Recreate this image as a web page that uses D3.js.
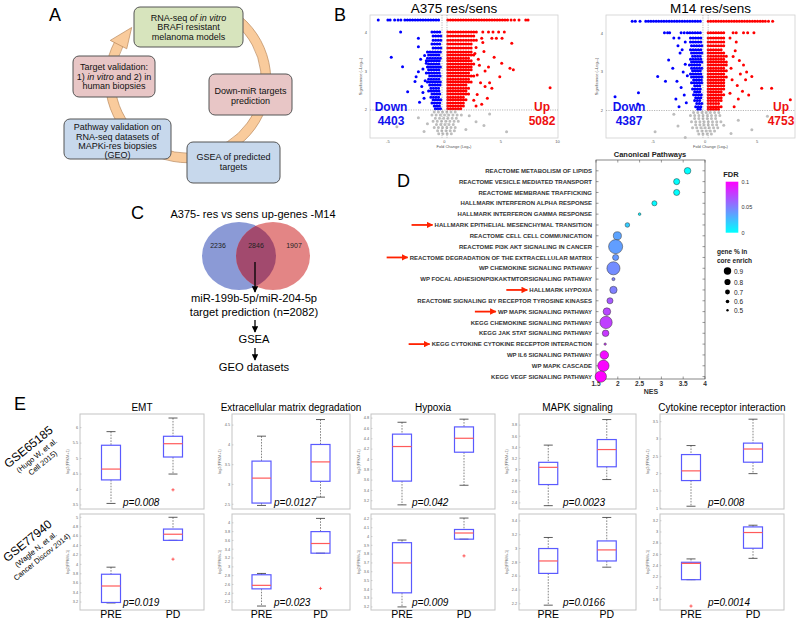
<!DOCTYPE html>
<html><head><meta charset="utf-8">
<script src="https://cdn.jsdelivr.net/npm/d3@7/dist/d3.min.js"></script>
<style>
body{margin:0;background:#fff}
svg{display:block}
text{font-family:"Liberation Sans",Arial,Helvetica,sans-serif}
</style></head>
<body><svg id="chart"></svg>
<script>
// ================= DATA =================
// Panel A: cycle steps (text; _x_ = italic)
const cycleSteps = [
  ["RNA-seq _of in vitro_", "BRAFi resistant", "melanoma models"],
  ["Down-miR targets", "prediction"],
  ["GSEA of predicted", "targets"],
  ["Pathway validation on", "RNA-seq datasets of", "MAPKi-res biopsies", "(GEO)"],
  ["Target validation:", "1) _in vitro_ and 2) in", "human biopsies"]
];

// Panel B: volcano plots
const volcanoTitles = ["A375 res/sens", "M14 res/sens"];
const volcanoDownCounts = [4403, 4387];
const volcanoUpCounts = [5082, 4753];
const volcanoYTicks = [2, 3, 4];
const a375XTicks = [-5, 0, 5, 10];
const m14XTicks = [-5, 0, 5];
// dense bands: [significance, foldChangeFrom, foldChangeTo]
const a375DownBands = [[4.31,-3.5,-0.3],[4.0,-1.1,-0.3],[3.9,-1.0,-0.3],[3.79,-1.0,-0.3],[3.69,-1.1,-0.3],[3.59,-1.0,-0.3],
  [3.49,-1.5,-0.3],[3.41,-1.4,-0.3],[3.33,-1.5,-0.3],[3.26,-1.6,-0.3],[3.18,-1.4,-0.3],[3.10,-1.5,-0.3],[3.03,-1.4,-0.3],
  [2.95,-1.6,-0.3],[2.87,-1.3,-0.3],[2.79,-1.4,-0.3],[2.72,-1.5,-0.3],[2.64,-1.3,-0.3],[2.56,-1.2,-0.3],[2.49,-1.4,-0.3],
  [2.41,-1.1,-0.3],[2.33,-1.2,-0.3],[2.26,-1.0,-0.3],[2.18,-1.1,-0.3],[2.10,-0.9,-0.3],[2.03,-0.8,-0.3]];
const a375UpBands = [[4.31,0.3,5.6],[4.0,0.3,3.0],[3.9,0.3,2.6],[3.79,0.3,3.0],[3.69,0.3,2.5],[3.59,0.3,2.4],
  [3.49,0.3,2.4],[3.41,0.3,2.6],[3.33,0.3,2.3],[3.26,0.3,2.5],[3.18,0.3,2.7],[3.10,0.3,2.4],[3.03,0.3,2.5],
  [2.95,0.3,2.3],[2.87,0.3,2.6],[2.79,0.3,2.2],[2.72,0.3,2.4],[2.64,0.3,2.1],[2.56,0.3,2.3],[2.49,0.3,2.0],
  [2.41,0.3,2.2],[2.33,0.3,1.9],[2.26,0.3,2.0],[2.18,0.3,1.8],[2.10,0.3,1.9],[2.03,0.3,1.6]];
const a375GrayBands = [[1.95,-0.9,1.3],[1.87,-1.1,1.6],[1.79,-0.8,1.2],[1.71,-1.0,1.4],[1.63,-0.7,1.1],[1.55,-0.9,1.3],[1.47,-0.6,0.9],[1.39,-0.5,0.7]];
const a375DownPts = [[-5.85,4.31],[-5.0,4.31],[-4.8,4.31],[-4.4,4.31],[-4.1,4.31],[-3.85,4.31],[-3.87,4.0],[-2.3,3.84],[-2.3,3.62],
  [-4.7,3.35],[-3.7,3.11],[-2.3,2.98],[-2.5,2.85],[-2.6,2.73],[-3.25,2.47],[-1.6,3.2],[-1.9,3.05],[-2.0,2.6],[-1.8,2.3],
  [-2.1,3.3],[-1.7,2.75],[-1.9,2.45],[-2.2,2.2],[-1.75,3.4]];
const a375UpPts = [[5.9,4.31],[6.2,4.31],[6.6,4.31],[7.2,4.31],[7.4,4.31],[3.4,4.0],[3.9,4.0],[4.3,4.0],[4.8,4.0],[5.3,4.0],
  [3.3,3.84],[4.2,3.84],[4.6,3.84],[5.1,3.84],[5.96,3.71],[3.4,3.73],[5.07,3.2],[5.8,3.07],[6.1,3.03],[4.9,2.85],[4.2,2.56],
  [9.35,2.57],[3.6,3.0],[3.2,2.7],[2.9,2.4],[3.8,2.3],[3.0,3.3],[2.7,3.45],[3.5,3.5],[4.0,2.7],[3.3,2.15],[2.8,2.1],[4.4,3.35],
  [2.9,2.9],[3.1,3.15],[2.6,2.25],[3.6,2.6],[2.8,3.6],[3.9,3.1]];
const a375GrayPts = [[-4.2,1.57],[5.5,1.44],[-2.3,1.8],[2.8,1.7],[3.5,1.6],[-1.8,1.45],[2.2,1.85],[4.0,1.9],[-1.5,1.65],[1.9,1.5]];

const m14DownBands = [[4.32,-5.7,-0.3],[4.02,-1.7,-0.3],[3.88,-1.4,-0.3],[3.78,-1.4,-0.3],[3.68,-1.3,-0.3],[3.58,-1.4,-0.3],
  [3.49,-1.3,-0.3],[3.41,-1.2,-0.3],[3.33,-1.4,-0.3],[3.26,-1.3,-0.3],[3.18,-1.5,-0.3],[3.10,-1.3,-0.3],[3.03,-1.2,-0.3],
  [2.95,-1.4,-0.3],[2.87,-1.3,-0.3],[2.79,-1.1,-0.3],[2.72,-1.3,-0.3],[2.64,-1.0,-0.3],[2.56,-1.2,-0.3],[2.49,-1.0,-0.3],
  [2.41,-1.1,-0.3],[2.33,-0.9,-0.3],[2.26,-1.0,-0.3],[2.18,-0.8,-0.3],[2.10,-0.9,-0.3],[2.03,-0.7,-0.3]];
const m14UpBands = [[4.32,0.3,5.8],[4.02,0.3,1.9],[3.88,0.3,1.9],[3.78,0.3,1.8],[3.68,0.3,1.9],[3.58,0.3,1.7],
  [3.49,0.3,2.0],[3.41,0.3,2.2],[3.33,0.3,1.9],[3.26,0.3,2.1],[3.18,0.3,2.2],[3.10,0.3,1.9],[3.03,0.3,2.1],
  [2.95,0.3,2.0],[2.87,0.3,2.2],[2.79,0.3,1.9],[2.72,0.3,2.0],[2.64,0.3,1.8],[2.56,0.3,2.0],[2.49,0.3,1.7],
  [2.41,0.3,1.9],[2.33,0.3,1.6],[2.26,0.3,1.7],[2.18,0.3,1.5],[2.10,0.3,1.6],[2.03,0.3,1.4]];
const m14GrayBands = [[1.95,-1.1,1.5],[1.87,-1.4,1.8],[1.79,-1.0,1.3],[1.71,-1.3,1.6],[1.63,-0.9,1.2],[1.55,-1.2,1.5],[1.47,-0.7,1.0],[1.39,-0.6,0.8]];
const m14DownPts = [[-7.0,4.32],[-6.7,4.32],[-6.25,4.32],[-3.9,4.02],[-3.6,4.02],[-3.4,4.02],[-2.3,4.02],[-2.0,4.02],[-3.0,3.88],
  [-2.5,3.88],[-1.9,3.78],[-2.6,3.68],[-2.2,3.58],[-3.5,3.31],[-2.4,3.49],[-4.55,2.88],[-3.8,2.76],[-2.7,2.76],[-6.4,2.46],
  [-8.65,2.36],[-6.45,2.17],[-1.9,3.2],[-2.1,3.0],[-2.3,2.6],[-2.0,2.4],[-1.8,2.2],[-2.8,2.3],[-1.7,2.9],[-3.1,3.1],[-2.5,2.1]];
const m14UpPts = [[6.1,4.32],[6.5,4.32],[2.7,4.02],[3.0,4.02],[3.7,4.02],[4.1,4.02],[4.7,4.02],[2.4,3.88],[3.0,3.78],[2.7,3.4],
  [3.3,3.3],[3.7,3.18],[4.0,3.0],[4.5,2.88],[3.9,2.8],[3.1,2.65],[5.45,2.58],[6.4,2.58],[3.6,2.5],[3.2,2.3],[8.2,2.28],
  [2.8,2.1],[2.5,3.1],[2.6,2.8],[3.4,2.95],[2.4,2.45],[4.2,2.4],[2.9,3.55]];
const m14GrayPts = [[-4.8,1.45],[-2.6,1.6],[3.2,1.75],[4.5,1.5],[-3.0,1.9],[2.5,1.4],[6.0,1.85],[-1.9,1.3],[1.8,1.62]];

// Panel C: Venn + workflow
const vennTitle = "A375- res vs sens up-genes -M14";
const vennCounts = [2236, 2846, 1907];
const workflowSteps = ["miR-199b-5p/miR-204-5p", "target prediction (n=2082)", "GSEA", "GEO datasets"];

// Panel D: canonical pathways
const pathways = [
  "REACTOME METABOLISM OF LIPIDS", "REACTOME VESICLE MEDIATED TRANSPORT", "REACTOME MEMBRANE TRAFFICKING",
  "HALLMARK INTERFERON ALPHA RESPONSE", "HALLMARK INTERFERON GAMMA RESPONSE", "HALLMARK EPITHELIAL MESENCHYMAL TRANSITION",
  "REACTOME CELL CELL COMMUNICATION", "REACTOME PI3K AKT SIGNALING IN CANCER", "REACTOME DEGRADATION OF THE EXTRACELLULAR MATRIX",
  "WP CHEMOKINE SIGNALING PATHWAY", "WP FOCAL ADHESIONPI3KAKTMTORSIGNALING PATHWAY", "HALLMARK HYPOXIA",
  "REACTOME SIGNALING BY RECEPTOR TYROSINE KINASES", "WP MAPK SIGNALING PATHWAY", "KEGG CHEMOKINE SIGNALING PATHWAY",
  "KEGG JAK STAT SIGNALING PATHWAY", "KEGG CYTOKINE CYTOKINE RECEPTOR INTERACTION", "WP IL6 SIGNALING PATHWAY",
  "WP MAPK CASCADE", "KEGG VEGF SIGNALING PATHWAY"];
const nes = [3.6, 3.35, 3.35, 2.84, 2.5, 2.22, 1.99, 1.95, 1.95, 1.9, 1.9, 1.9, 1.82, 1.75, 1.73, 1.72, 1.71, 1.69, 1.67, 1.61];
const fdr = [0, 0, 0, 0.002, 0.005, 0.02, 0.036, 0.038, 0.04, 0.045, 0.05, 0.05, 0.065, 0.072, 0.075, 0.078, 0.08, 0.095, 0.098, 0.1];
const coreEnrich = [0.66, 0.64, 0.64, 0.6, 0.5, 0.58, 0.72, 0.96, 0.64, 0.92, 0.52, 0.69, 0.64, 0.7, 0.89, 0.66, 0.49, 0.74, 0.85, 0.85];
const highlighted = ["HALLMARK EPITHELIAL MESENCHYMAL TRANSITION", "REACTOME DEGRADATION OF THE EXTRACELLULAR MATRIX",
  "HALLMARK HYPOXIA", "WP MAPK SIGNALING PATHWAY", "KEGG CYTOKINE CYTOKINE RECEPTOR INTERACTION"];
const nesTicks = [1.5, 2, 2.5, 3, 3.5, 4];
const nesTickLabels = ["1.5", "2", "2.5", "3", "3.5", "4"];
const fdrTicks = [0.1, 0.05, 0];
const coreLegend = [0.9, 0.8, 0.7, 0.6, 0.5];

// Panel E: box plots  [lowerWhisker, Q1, median, Q3, upperWhisker, outliers]
const boxTitles = ["EMT", "Extracellular matrix degradation", "Hypoxia", "MAPK signaling", "Cytokine receptor interaction"];
const boxGroups = ["PRE", "PD"];
const datasets = [["GSE65185", "(Hugo W, et al.", "Cell 2015)"], ["GSE77940", "(Wagle N, et al.", "Cancer Discov 2014)"]];
const gse65185Pre = [[3.55,4.31,4.66,5.43,5.87,[]],[2.47,2.53,3.16,3.59,4.22,[]],[3.12,3.58,4.25,4.49,4.72,[]],[2.35,2.73,3.04,3.13,3.44,[]],[1.06,1.80,2.08,2.55,2.81,[]]];
const gse65185Pd  = [[4.5,5.05,5.48,5.72,6.31,[3.99]],[2.68,3.08,3.57,4.01,4.64,[]],[3.5,4.14,4.41,4.63,4.78,[]],[2.82,3.05,3.36,3.54,3.9,[]],[2.0,2.33,2.71,2.88,3.57,[]]];
const gse77940Pre = [[3.18,3.19,3.54,3.79,3.94,[]],[2.11,2.5,2.58,2.82,2.85,[]],[3.2,3.36,3.7,3.93,3.96,[]],[2.18,2.64,2.82,3.0,3.16,[]],[2.15,2.15,2.44,2.46,2.52,[1.68]]];
const gse77940Pd  = [[4.51,4.51,4.64,4.75,5.0,[4.11]],[3.31,3.31,3.53,3.8,4.1,[2.51]],[3.97,3.97,4.04,4.08,4.21,[3.78]],[2.73,2.82,2.98,3.11,3.45,[]],[2.53,2.71,2.99,3.09,3.12,[]]];
const pValues = [["0.008", "0.0127", "0.042", "0.0023", "0.008"], ["0.019", "0.023", "0.009", "0.0166", "0.0014"]];
const boxDomains = [[[3.37,6.44],[2.38,4.78],[3.04,4.88],[2.29,4.0],[0.98,3.72]],
                    [[3.03,5.07],[2.02,4.2],[3.165,4.256],[2.11,3.5],[1.61,3.32]]];
const boxTicks = [[[3.5,4,4.5,5,5.5,6],[2.5,3,3.5,4,4.5],[3.2,3.4,3.6,3.8,4,4.2,4.4,4.6,4.8],[2.4,2.6,2.8,3,3.2,3.4,3.6,3.8],[1,1.5,2,2.5,3,3.5]],
                  [[3.2,3.4,3.6,3.8,4,4.2,4.4,4.6,4.8,5],[2.2,2.4,2.6,2.8,3,3.2,3.4,3.6,3.8,4],[3.2,3.3,3.4,3.5,3.6,3.7,3.8,3.9,4,4.1,4.2],[2.2,2.4,2.6,2.8,3,3.2,3.4],[1.8,2,2.2,2.4,2.6,2.8,3,3.2]]];

// ================= DRAW =================
const svg = d3.select("#chart").attr("width", 796).attr("height", 620);
const deg = Math.PI / 180;

svg.append("defs").html(`
  <marker id="blk" viewBox="0 0 10 10" refX="9" refY="5" markerWidth="5" markerHeight="5" orient="auto">
    <path d="M0,0L10,5L0,10Z" fill="#000"/></marker>
  <marker id="red" viewBox="0 0 10 10" refX="9" refY="5" markerWidth="3.6" markerHeight="3.6" orient="auto">
    <path d="M0,0L10,5L0,10Z" fill="#ff2200"/></marker>
  <linearGradient id="fdrGrad" x1="0" y1="1" x2="0" y2="0">
    <stop offset="0" stop-color="#00ffff"/><stop offset="1" stop-color="#ff00ff"/></linearGradient>`);

[["A",49,21],["B",334,21],["C",131,219],["D",397,187],["E",14,410]].forEach(([t,x,y]) =>
  svg.append("text").attr("x", x).attr("y", y).attr("font-size", 18).text(t));

function rich(sel, str) {
  str.split("_").forEach((p, i) => { if (p) sel.append("tspan").attr("font-style", i % 2 ? "italic" : "normal").text(p); });
}

// ---------- Panel A ----------
{
  const g = svg.append("g");
  const c = [188, 80], R = 78, bw = 9.5;
  const pt = (a, r) => [c[0] + r * Math.sin(a * deg), c[1] - r * Math.cos(a * deg)];
  g.append("path").attr("transform", `translate(${c})`)
    .attr("d", d3.arc()({innerRadius: R - bw / 2, outerRadius: R + bw / 2, startAngle: 40 * deg, endAngle: 298 * deg}))
    .attr("fill", "#f9cb9c").attr("stroke", "#b9885c").attr("stroke-width", 0.7);
  g.append("path").attr("d", d3.line()([pt(297, R - bw / 2 - 4.5), pt(297, R + bw / 2 + 4.5), pt(313, R - 1)]) + "Z")
    .attr("fill", "#f9cb9c").attr("stroke", "#b9885c").attr("stroke-width", 0.7);
  const lay = [
    {x:134, y:7, w:109, h:40, fill:"#d7e4bd", ly:[20.8,30.2,39.5]},
    {x:209, y:74, w:83, h:41, fill:"#e8c6c6", ly:[94.2,103.6]},
    {x:187, y:142, w:93, h:41, fill:"#c7d8ec", ly:[160.2,169.6]},
    {x:64, y:119, w:107, h:40, fill:"#c7d8ec", ly:[130.2,139.5,149,158.4]},
    {x:73, y:56, w:82, h:41, fill:"#e8c6c6", ly:[70.2,79.6,89.2]}];
  cycleSteps.forEach((lines, i) => {
    const L = lay[i];
    g.append("rect").attr("x", L.x).attr("y", L.y).attr("width", L.w).attr("height", L.h).attr("rx", 6)
      .attr("fill", L.fill).attr("stroke", "#555").attr("stroke-width", 1);
    lines.forEach((ln, j) => {
      const t = g.append("text").attr("x", L.x + L.w / 2).attr("y", L.ly[j]).attr("text-anchor", "middle")
        .attr("font-size", 9).attr("fill", "#111");
      rich(t, ln);
    });
  });
}

// ---------- Panel B ----------
function volcano(o) {
  const g = svg.append("g");
  const x = d3.scaleLinear().domain(o.xd).range([o.x0, o.x1]);
  const y = d3.scaleLinear().domain(o.yd).range([o.y1, o.y0]);
  g.append("text").attr("x", (o.x0 + o.x1) / 2 + o.tdx).attr("y", 12.5).attr("text-anchor", "middle")
    .attr("font-size", 13.5).text(o.title);
  g.append("rect").attr("x", o.x0).attr("y", o.y0).attr("width", o.x1 - o.x0).attr("height", o.y1 - o.y0)
    .attr("fill", "none").attr("stroke", "#d0d0d0").attr("stroke-width", 0.8);
  const band = (arr, col, gap) => g.selectAll(null).data(arr).join("line")
    .attr("x1", d => x(d[1])).attr("x2", d => x(d[2])).attr("y1", d => y(d[0])).attr("y2", d => y(d[0]))
    .attr("stroke", col).attr("stroke-width", 3).attr("stroke-linecap", "round").attr("stroke-dasharray", `0 ${gap}`);
  const pts = (arr, col) => g.selectAll(null).data(arr).join("circle")
    .attr("cx", d => x(d[0])).attr("cy", d => y(d[1])).attr("r", 1.5).attr("fill", col);
  band(o.grayB, "#bdbdbd", 4.2); pts(o.grayP, "#bdbdbd");
  band(o.downB, "#0000ff", 2.6); pts(o.downP, "#0000ff");
  band(o.upB, "#ff0000", 2.6); pts(o.upP, "#ff0000");
  // thresholds
  const dash = {"stroke": "#888", "stroke-width": 0.6, "stroke-dasharray": "1.2 1.2", "fill": "none"};
  const thr = [g.append("line").attr("x1", o.x0).attr("x2", o.x1).attr("y1", y(o.hthr)).attr("y2", y(o.hthr))];
  o.vthr.forEach(v => thr.push(g.append("line").attr("x1", x(v)).attr("x2", x(v)).attr("y1", o.y0).attr("y2", o.y1)));
  thr.forEach(l => Object.entries(dash).forEach(([k, v]) => l.attr(k, v)));
  // axes
  o.xt.forEach(t => g.append("text").attr("x", x(t)).attr("y", o.y1 + 5).attr("font-size", 4).attr("fill", "#555")
    .attr("text-anchor", "middle").text(t));
  volcanoYTicks.forEach(t => g.append("text").attr("x", o.x0 - 3).attr("y", y(t) + 1.5).attr("font-size", 4)
    .attr("fill", "#555").attr("text-anchor", "end").text(t));
  g.append("text").attr("x", (o.x0 + o.x1) / 2 + o.tdx).attr("y", o.y1 + 10).attr("text-anchor", "middle")
    .attr("font-size", 4).attr("fill", "#555").text("Fold Change (Log\u2082)");
  g.append("text").attr("transform", `translate(${o.x0 - 8},${(o.y0 + o.y1) / 2}) rotate(-90)`).attr("text-anchor", "middle")
    .attr("font-size", 4).attr("fill", "#555").text("Significance (\u2013Log\u2081\u2080)");
  // counts
  const lab = (tx, cx, yy, col) => g.append("text").attr("x", cx).attr("y", yy).attr("text-anchor", "middle")
    .attr("font-size", 12).attr("font-weight", "bold").attr("fill", col).text(tx);
  lab("Down", o.dx, 110.5, "#1010ee"); lab(o.down, o.dx, 124.5, "#1010ee");
  lab("Up", o.ux, 110.5, "#ee1010"); lab(o.up, o.ux, 124.5, "#ee1010");
}
volcano({title: volcanoTitles[0], x0: 370, x1: 558, y0: 15, y1: 138, xd: [-6.58, 10.05], yd: [1.282, 4.436], tdx: -10,
  downB: a375DownBands, upB: a375UpBands, grayB: a375GrayBands, downP: a375DownPts, upP: a375UpPts, grayP: a375GrayPts,
  hthr: 2.0, vthr: [-0.21, 0.23], xt: a375XTicks, dx: 391, ux: 542, down: volcanoDownCounts[0], up: volcanoUpCounts[0]});
volcano({title: volcanoTitles[1], x0: 606, x1: 795, y0: 15, y1: 138, xd: [-9.52, 8.65], yd: [1.286, 4.48], tdx: 10,
  downB: m14DownBands, upB: m14UpBands, grayB: m14GrayBands, downP: m14DownPts, upP: m14UpPts, grayP: m14GrayPts,
  hthr: 2.0, vthr: [-0.2, 0.3], xt: m14XTicks, dx: 629, ux: 781, down: volcanoDownCounts[1], up: volcanoUpCounts[1]});

// ---------- Panel C ----------
{
  const g = svg.append("g");
  g.append("text").attr("x", 253).attr("y", 218).attr("text-anchor", "middle").attr("font-size", 11).text(vennTitle);
  const L = {cx: 239, cy: 256, rx: 37, ry: 34}, Rr = {cx: 273, cy: 256, rx: 37, ry: 34};
  g.append("clipPath").attr("id", "leftClip").append("ellipse").attr("cx", L.cx).attr("cy", L.cy).attr("rx", L.rx).attr("ry", L.ry);
  g.append("ellipse").attr("cx", L.cx).attr("cy", L.cy).attr("rx", L.rx).attr("ry", L.ry).attr("fill", "#8b9ad6");
  g.append("ellipse").attr("cx", Rr.cx).attr("cy", Rr.cy).attr("rx", Rr.rx).attr("ry", Rr.ry).attr("fill", "#e38585");
  g.append("ellipse").attr("cx", Rr.cx).attr("cy", Rr.cy).attr("rx", Rr.rx).attr("ry", Rr.ry).attr("fill", "#a24a6e")
    .attr("clip-path", "url(#leftClip)");
  [218, 256, 294].forEach((xx, i) => g.append("text").attr("x", xx).attr("y", 247.5).attr("text-anchor", "middle")
    .attr("font-size", 7).attr("fill", "#222").text(vennCounts[i]));
  const ys = [302, 316, 343, 371];
  workflowSteps.forEach((s, i) => g.append("text").attr("x", 254).attr("y", ys[i]).attr("text-anchor", "middle")
    .attr("font-size", 11.2).text(s));
  [[262, 292], [320, 332], [348, 360]].forEach(([a, b]) => g.append("line").attr("x1", 255).attr("x2", 255)
    .attr("y1", a).attr("y2", b).attr("stroke", "#000").attr("stroke-width", 1.3).attr("marker-end", "url(#blk)"));
}

// ---------- Panel D ----------
{
  const g = svg.append("g");
  const x = d3.scaleLinear().domain([1.5, 4]).range([596, 705]);
  const y = d3.scalePoint().domain(pathways).range([170.8, 376.6]);
  const col = d3.scaleLinear().domain([0, 0.1]).range(["#00ffff", "#ff00ff"]).interpolate(d3.interpolateRgb);
  const rr = d3.scaleLinear().domain([0.5, 0.9]).range([1.3, 6.3]);
  const top = 160, bot = 379;
  g.append("text").attr("x", 650).attr("y", 157).attr("text-anchor", "middle").attr("font-size", 7.5)
    .attr("font-weight", "bold").attr("fill", "#222").text("Canonical Pathways");
  g.append("rect").attr("x", 596).attr("y", top).attr("width", 109).attr("height", bot - top)
    .attr("fill", "none").attr("stroke", "#555").attr("stroke-width", 0.7);
  pathways.forEach(p => {
    [[596, 598.5], [702.5, 705]].forEach(([a, b]) => g.append("line").attr("x1", a).attr("x2", b)
      .attr("y1", y(p)).attr("y2", y(p)).attr("stroke", "#555").attr("stroke-width", 0.6));
  });
  nesTicks.forEach((t, i) => {
    [[top, top + 2.5], [bot - 2.5, bot]].forEach(([a, b]) => g.append("line").attr("x1", x(t)).attr("x2", x(t))
      .attr("y1", a).attr("y2", b).attr("stroke", "#555").attr("stroke-width", 0.6));
    g.append("text").attr("x", x(t)).attr("y", bot + 6.5).attr("text-anchor", "middle").attr("font-size", 6.5)
      .attr("font-weight", "bold").attr("fill", "#333").text(nesTickLabels[i]);
  });
  g.append("text").attr("x", 651).attr("y", 394).attr("text-anchor", "middle").attr("font-size", 7)
    .attr("font-weight", "bold").attr("fill", "#333").text("NES");
  pathways.forEach((p, i) => {
    const t = g.append("text").attr("x", 592).attr("y", y(p) + 2.1).attr("text-anchor", "end").attr("font-size", 6)
      .attr("font-weight", "bold").attr("fill", "#333").text(p);
    if (highlighted.includes(p)) {
      const w = t.node().getComputedTextLength();
      const xe = 592 - w - 2;
      g.append("line").attr("x1", xe - 21).attr("x2", xe).attr("y1", y(p)).attr("y2", y(p))
        .attr("stroke", "#ff2200").attr("stroke-width", 1.8).attr("marker-end", "url(#red)");
    }
  });
  g.selectAll(null).data(pathways).join("circle")
    .attr("cx", (d, i) => x(nes[i])).attr("cy", d => y(d)).attr("r", (d, i) => rr(coreEnrich[i]))
    .attr("fill", (d, i) => col(fdr[i])).attr("stroke", "#333").attr("stroke-width", 0.5);
  // legends
  g.append("text").attr("x", 731).attr("y", 177).attr("text-anchor", "middle").attr("font-size", 7.5)
    .attr("font-weight", "bold").attr("fill", "#222").text("FDR");
  const fy = d3.scaleLinear().domain([0, 0.1]).range([232.7, 181.7]);
  g.append("rect").attr("x", 725.7).attr("y", 181.7).attr("width", 12.6).attr("height", 51).attr("fill", "url(#fdrGrad)");
  fdrTicks.forEach(t => g.append("text").attr("x", 741.5).attr("y", fy(t) + 2).attr("font-size", 5.5)
    .attr("fill", "#333").text(String(t)));
  g.append("text").attr("x", 717).attr("y", 254).attr("font-size", 6.5).attr("font-weight", "bold").attr("fill", "#222").text("gene % in");
  g.append("text").attr("x", 717).attr("y", 263).attr("font-size", 6.5).attr("font-weight", "bold").attr("fill", "#222").text("core enrich");
  const lr = d3.scaleLinear().domain([0.5, 0.9]).range([1.2, 3.7]);
  const ly = [271, 282, 292, 301.5, 310.3];
  coreLegend.forEach((v, i) => {
    g.append("circle").attr("cx", 727.5).attr("cy", ly[i]).attr("r", lr(v)).attr("fill", "#000");
    g.append("text").attr("x", 734).attr("y", ly[i] + 2.5).attr("font-size", 6.5).attr("fill", "#222").text(v.toFixed(1));
  });
}

// ---------- Panel E ----------
{
  const g = svg.append("g");
  const cols = [[80, 204], [232, 350], [371, 495], [519, 636], [660, 784]];
  const rows = [[414, 509], [514, 610]];
  const pX = [123, 274, 412, 563, 708];
  const pY = [506, 606];
  const stats = [[gse65185Pre, gse65185Pd], [gse77940Pre, gse77940Pd]];
  boxTitles.forEach((t, c) => g.append("text").attr("x", (cols[c][0] + cols[c][1]) / 2).attr("y", 411)
    .attr("text-anchor", "middle").attr("font-size", 10).text(t));
  datasets.forEach((d, r) => {
    const cy = r === 0 ? 450 : 544, cx = r === 0 ? 31 : 30;
    const tg = g.append("g").attr("transform", `translate(${cx},${cy}) rotate(-39)`);
    tg.append("text").attr("x", 0).attr("y", 0).attr("text-anchor", "middle").attr("font-size", 12).text(d[0]);
    tg.append("text").attr("x", 1).attr("y", 10.5).attr("text-anchor", "middle").attr("font-size", 7.5).text(d[1]);
    tg.append("text").attr("x", 1).attr("y", 20).attr("text-anchor", "middle").attr("font-size", 7.5).text(d[2]);
  });
  rows.forEach(([y0, y1], r) => cols.forEach(([x0, x1], c) => {
    const x = d3.scalePoint().domain(boxGroups).range([x0, x1]).padding(0.5);
    const y = d3.scaleLinear().domain(boxDomains[r][c]).range([y1, y0]);
    g.append("rect").attr("x", x0).attr("y", y0).attr("width", x1 - x0).attr("height", y1 - y0)
      .attr("fill", "none").attr("stroke", "#c4c4c4").attr("stroke-width", 1);
    boxTicks[r][c].forEach(t => {
      g.append("text").attr("x", x0 - 2).attr("y", y(t) + 1.3).attr("text-anchor", "end").attr("font-size", 3.8)
        .attr("fill", "#666").text(t);
      g.append("line").attr("x1", x0).attr("x2", x0 + 1.5).attr("y1", y(t)).attr("y2", y(t)).attr("stroke", "#aaa").attr("stroke-width", 0.5);
    });
    g.append("text").attr("transform", `translate(${x0 - 11},${(y0 + y1) / 2}) rotate(-90)`).attr("text-anchor", "middle")
      .attr("font-size", 3.8).attr("fill", "#666").text("log2(FPKM+1)");
    boxGroups.forEach((grp, k) => {
      const s = stats[r][k][c], cx = x(grp), hw = 9.5;
      const dl = {"stroke": "#333", "stroke-width": 0.6, "stroke-dasharray": "1.6 1.3"};
      const w1 = g.append("line").attr("x1", cx).attr("x2", cx).attr("y1", y(s[4])).attr("y2", y(s[3]));
      const w2 = g.append("line").attr("x1", cx).attr("x2", cx).attr("y1", y(s[1])).attr("y2", y(s[0]));
      [w1, w2].forEach(l => Object.entries(dl).forEach(([a, v]) => l.attr(a, v)));
      [s[0], s[4]].forEach(v => g.append("line").attr("x1", cx - 4.5).attr("x2", cx + 4.5).attr("y1", y(v)).attr("y2", y(v))
        .attr("stroke", "#333").attr("stroke-width", 0.8));
      g.append("rect").attr("x", cx - hw).attr("y", y(s[3])).attr("width", hw * 2).attr("height", y(s[1]) - y(s[3]))
        .attr("fill", "none").attr("stroke", "#5a5aff").attr("stroke-width", 1.2);
      g.append("line").attr("x1", cx - hw).attr("x2", cx + hw).attr("y1", y(s[2])).attr("y2", y(s[2]))
        .attr("stroke", "#ff5a5a").attr("stroke-width", 1.2);
      s[5].forEach(v => g.append("path").attr("d", `M${cx - 1.6},${y(v)}h3.2M${cx},${y(v) - 1.6}v3.2`)
        .attr("stroke", "#ff2020").attr("stroke-width", 0.7));
    });
    const pt = g.append("text").attr("x", pX[c]).attr("y", pY[r]).attr("font-size", 10).attr("font-style", "italic");
    pt.text("p=" + pValues[r][c]);
    if (r === 1) boxGroups.forEach(grp => g.append("text").attr("x", x(grp)).attr("y", 618).attr("text-anchor", "middle")
      .attr("font-size", 10.5).text(grp));
  }));
}
</script></body></html>
